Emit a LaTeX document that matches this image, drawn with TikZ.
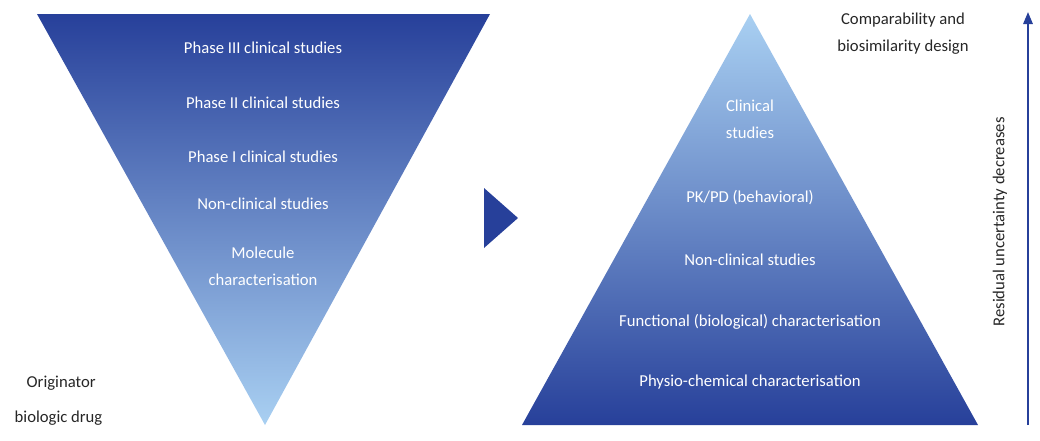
\documentclass[tikz,border=0pt]{standalone}
\usepackage{fontspec}
\setmainfont{Carlito}
\usetikzlibrary{arrows.meta}
\definecolor{dblue}{HTML}{27409A}
\definecolor{lblue}{HTML}{A9D0F2}
\tikzset{
 wt/.style={text=white,font=\fontsize{12.5}{14}\selectfont,align=center},
 bt/.style={text=black!85,font=\fontsize{12.5}{14}\selectfont},
}
\begin{document}
\begin{tikzpicture}[x=0.75pt,y=-0.75pt]
\useasboundingbox (0,0) rectangle (1040,440);
\shade[top color=dblue,bottom color=lblue] (37,14) -- (490,14) -- (265,425) -- cycle;
\shade[top color=lblue,bottom color=dblue] (750,14) -- (978,425) -- (522,425) -- cycle;
\fill[dblue] (484,188) -- (518,218) -- (484,248) -- cycle;
\node[wt] (p3) at (263,48) {Phase III clinical studies};
\node[wt] (p2) at (263,103) {Phase II clinical studies};
\node[wt] (p1) at (263,157) {Phase I clinical studies};
\node[wt] (nc) at (263,204) {Non-clinical studies};
\node[wt] (mc) at (263,266) {Molecule\\[6pt]characterisation};
\node[bt,anchor=west] (o1) at (22,383) {Originator};
\node[bt,anchor=west] (o2) at (10,418) {biologic drug};
\node[wt] (cs) at (750,119) {Clinical\\[6pt]studies};
\node[wt] (pk) at (750,198) {PK/PD (behavioral)};
\node[wt] (nc2) at (750,260) {Non-clinical studies};
\node[wt] (fc) at (750,322) {Functional (biological) characterisation};
\node[wt] (pc) at (750,382) {Physio-chemical characterisation};
\node[bt] (cb) at (903,20) {Comparability and};
\node[bt] (bd) at (903,47) {biosimilarity design};
\coordinate (a0) at (1028,425);
\coordinate (a1) at (1028,12);
\draw[dblue,line width=1.5pt,-{Triangle[length=9pt,width=7pt]}] (a0) -- (a1);
\node[bt,rotate=90] (ru) at (1000,222) {Residual uncertainty decreases};
\end{tikzpicture}
\end{document}
